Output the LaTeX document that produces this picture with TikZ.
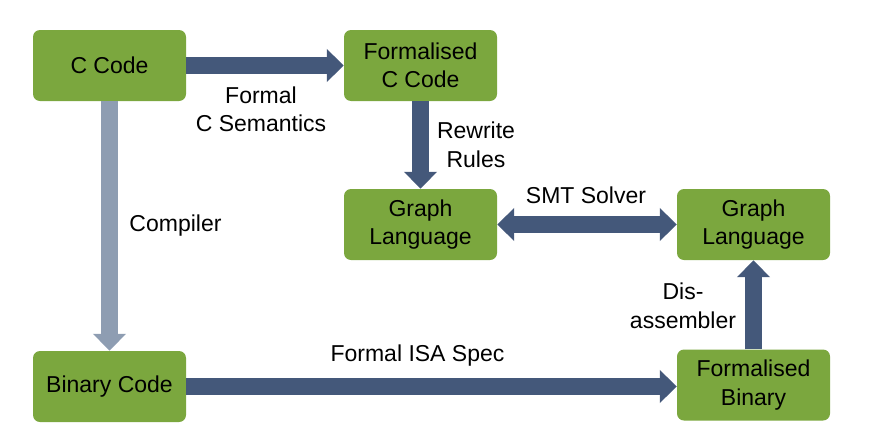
\documentclass[tikz,border=0pt]{standalone}
\usepackage{fontspec}
\setmainfont{Liberation Sans}
\usetikzlibrary{arrows.meta}
\definecolor{boxgreen}{HTML}{7BA73E}
\definecolor{arrowblue}{HTML}{44587A}
\definecolor{arrowgrey}{HTML}{8E9DB2}
\tikzset{
  stage/.style={fill=boxgreen, rounded corners=7pt, minimum width=153pt,
    minimum height=71pt, align=center, inner sep=2pt},
  flow/.style={draw=arrowblue, line width=17pt,
    -{Triangle[width=32pt,length=17pt]}},
  flowboth/.style={draw=arrowblue, line width=17pt,
    {Triangle[width=32pt,length=17pt]}-{Triangle[width=32pt,length=17pt]}},
  steplabel/.style={align=center, inner sep=0pt}
}
\begin{document}
\begin{tikzpicture}[x=1pt, y=-1pt, font=\fontsize{23}{28.5}\selectfont]
        \useasboundingbox (0,0) rectangle (880,442);
        % Boxes
        \node[stage] (ccode) at (109.5,65.5) {C Code};
        \node[stage] (fccode) at (420.5,65.5) {Formalised\\C Code};
        \node[stage] (graphl) at (420.5,224.5) {Graph\\Language};
        \node[stage] (graphr) at (753.5,224.5) {Graph\\Language};
        \node[stage] (binary) at (109.5,386.5) {Binary Code};
        \node[stage] (fbinary) at (753.5,385) {Formalised\\Binary};
        % Arrows
        \draw[flow] (ccode) -- (fccode);
        \draw[flow, draw=arrowgrey] (ccode) -- (binary);
        \draw[flow] (fccode) -- (graphl);
        \draw[flowboth] (graphl) -- (graphr);
        \draw[flow] (binary) -- (binary -| fbinary.west);
        \draw[flow] (fbinary) -- (graphr);
        % Labels
        \node[steplabel] (lsem) at (261,109.5) {Formal\\C Semantics};
        \node[steplabel] (lrew) at (476,145) {Rewrite\\Rules};
        \node[steplabel] (lcomp) at (175.5,226) {Compiler};
        \node[steplabel] (lsmt) at (586,195) {SMT Solver};
        \node[steplabel] (ldis) at (683,306) {Dis-\\assembler};
        \node[steplabel] (lisa) at (417.5,356) {Formal ISA Spec};
\end{tikzpicture}
\end{document}
